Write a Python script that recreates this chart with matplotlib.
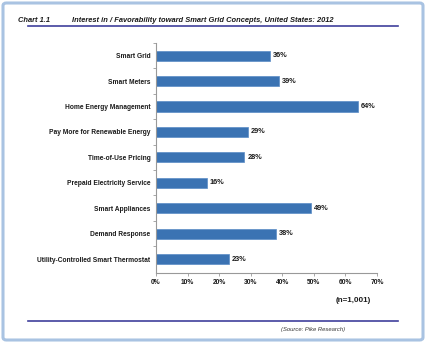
import matplotlib
matplotlib.use("Agg")
import matplotlib.pyplot as plt
from matplotlib.patches import FancyBboxPatch
from matplotlib.lines import Line2D

plt.rcParams['font.family'] = ['Liberation Sans', 'DejaVu Sans']

categories = [
    "Smart Grid",
    "Smart Meters",
    "Home Energy Management",
    "Pay More for Renewable Energy",
    "Time-of-Use Pricing",
    "Prepaid Electricity Service",
    "Smart Appliances",
    "Demand Response",
    "Utility-Controlled Smart Thermostat",
]
values = [36, 39, 64, 29, 28, 16, 49, 38, 23]
xticks = [0, 10, 20, 30, 40, 50, 60, 70]

W, H = 426, 343
fig = plt.figure(figsize=(W / 100, H / 100), dpi=100)

# outer frame
frame = FancyBboxPatch((3 / W, 3 / H), 1 - 6 / W, 1 - 6 / H,
                       boxstyle="round,pad=0,rounding_size=0.008",
                       transform=fig.transFigure, fill=False,
                       edgecolor="#a9c3e2", linewidth=2.2)
fig.patches.append(frame)

# title
fig.text(18 / W, 1 - 20 / H, "Chart 1.1", fontsize=5.4, fontweight="bold",
         fontstyle="italic", color="#1a1a1a", va="center", ha="left")
fig.text(72 / W, 1 - 20 / H,
         "Interest in / Favorability toward Smart Grid Concepts, United States: 2012",
         fontsize=5.4, fontweight="bold", fontstyle="italic", color="#1a1a1a",
         va="center", ha="left")
fig.lines.append(Line2D([28 / W, 398 / W], [1 - 26 / H, 1 - 26 / H],
                        transform=fig.transFigure, color="#3f3f9c", linewidth=1.2))

# bottom rule + source
fig.lines.append(Line2D([28 / W, 398 / W], [1 - 321 / H, 1 - 321 / H],
                        transform=fig.transFigure, color="#3f3f9c", linewidth=1.2))
fig.text(313 / W, 1 - 329 / H, "(Source: Pike Research)", fontsize=4.2,
         fontstyle="italic", color="#333333", ha="center", va="center")
fig.text(353 / W, 1 - 300 / H, "(n=1,001)", fontsize=5.8, fontweight="bold",
         color="#1a1a1a", ha="center", va="center")

ax = fig.add_axes([156 / W, 70 / H, (377 - 156) / W, (273 - 43) / H])
y = list(range(len(categories)))
ax.barh(y, values, height=0.4, color="#3b73b3", edgecolor="#5a8cc6", linewidth=0.5)
for yi, v in zip(y, values):
    ax.text(v + 1, yi, f"{v}%", va="center", ha="left", fontsize=5.3,
            fontweight="bold", color="#1a1a1a")

ax.set_xlim(0, 70)
ax.set_ylim(len(categories) - 0.45, -0.5)
ax.set_xticks(xticks)
ax.set_xticklabels([f"{t}%" for t in xticks], fontsize=4.8, fontweight="bold",
                   color="#1a1a1a")
ax.set_yticks(y)
ax.set_yticklabels(categories, fontsize=4.8, fontweight="bold", color="#1a1a1a")
ax.set_yticks([i + 0.5 for i in y[:-1]] + [-0.5], minor=True)
ax.tick_params(axis="y", which="major", length=0, pad=4)
ax.tick_params(axis="y", which="minor", length=2, color="#999999", width=0.6)
ax.tick_params(axis="x", length=2, color="#999999", width=0.6, pad=2)
for s in ["top", "right"]:
    ax.spines[s].set_visible(False)
for s in ["left", "bottom"]:
    ax.spines[s].set_color("#999999")
    ax.spines[s].set_linewidth(0.8)

fig.savefig("out.png", dpi=100)
